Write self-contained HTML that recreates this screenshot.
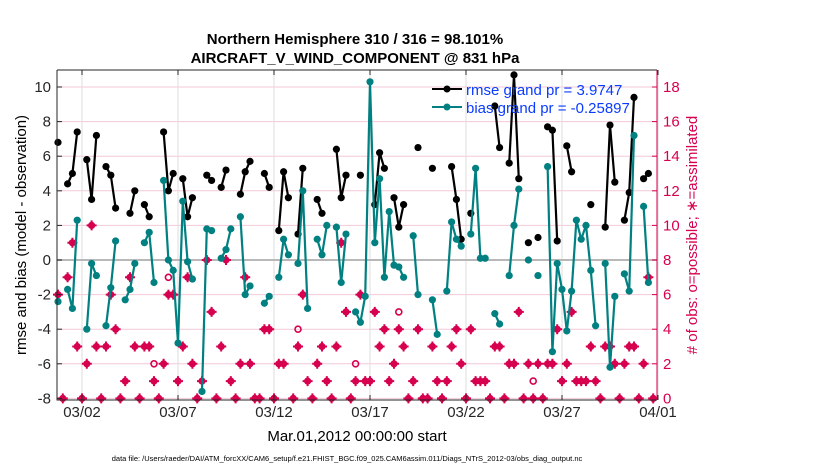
<!DOCTYPE html>
<html><head><meta charset="utf-8"><style>
html,body{margin:0;padding:0;background:#fff;width:830px;height:470px;overflow:hidden}
svg{display:block;font-family:"Liberation Sans",Arial,sans-serif}
</style></head><body>
<svg id="chart" width="830" height="470" viewBox="0 0 830 470" xmlns="http://www.w3.org/2000/svg">
<g id="grid"></g>
<g id="marks"></g>
<g id="axes"></g>
<text x="355" y="44" font-size="15" font-weight="bold" text-anchor="middle">Northern Hemisphere 310 / 316 = 98.101%</text>
<text x="355" y="63" font-size="15" font-weight="bold" text-anchor="middle">AIRCRAFT_V_WIND_COMPONENT @ 831 hPa</text>
<text transform="translate(26,235) rotate(-90)" font-size="15" text-anchor="middle">rmse and bias (model - observation)</text>
<text transform="translate(697,235) rotate(-90)" font-size="15" fill="#d6004f" text-anchor="middle"># of obs: o=possible; ∗=assimilated</text>
<text x="357" y="441" font-size="15" text-anchor="middle">Mar.01,2012 00:00:00 start</text>
<text x="347" y="461" font-size="7.5" text-anchor="middle">data file: /Users/raeder/DAI/ATM_forcXX/CAM6_setup/f.e21.FHIST_BGC.f09_025.CAM6assim.011/Diags_NTrS_2012-03/obs_diag_output.nc</text>
<g id="legend">
<line x1="432" y1="89" x2="462" y2="89" stroke="#000" stroke-width="2"/>
<circle cx="447" cy="89" r="3.5" fill="#000"/>
<text x="466" y="95" font-size="15" fill="#0a3cff">rmse grand pr = 3.9747</text>
<line x1="432" y1="107" x2="462" y2="107" stroke="#008080" stroke-width="2"/>
<circle cx="447" cy="107" r="3.5" fill="#008080"/>
<text x="466" y="113" font-size="15" fill="#0a3cff">bias grand pr = -0.25897</text>
</g>
</svg>
<script>
const rmseVals = {0:6.8,2:4.4,3:5.0,4:7.4,6:5.8,7:3.5,8:7.2,10:5.4,11:4.9,12:3.0,15:2.7,16:4.0,18:3.2,19:2.5,22:7.4,23:4.0,24:5.0,26:4.7,27:2.5,28:3.6,31:4.9,32:4.6,34:4.2,35:5.2,38:3.8,39:5.1,40:5.7,43:5.0,44:4.2,46:1.7,47:5.1,48:3.6,50:1.5,51:5.3,54:3.5,55:2.7,58:6.4,59:3.6,60:4.9,63:4.9,66:3.2,67:6.2,68:5.3,70:3.6,71:1.9,72:3.2,75:6.5,78:5.3,82:5.4,83:3.5,84:1.2,86:2.7,91:8.9,92:6.5,94:5.6,95:10.7,96:4.7,98:1.0,100:1.3,102:7.7,103:7.5,104:1.1,106:6.6,107:5.1,111:3.2,114:1.9,115:7.8,116:4.5,118:2.3,119:3.9,120:9.4,122:4.7,123:5.0};
const biasVals = {0:-2.4,2:-1.7,3:-2.8,4:2.3,6:-4.0,7:-0.2,8:-0.9,10:-3.8,11:-1.6,12:1.1,14:-2.3,15:-1.7,16:-0.2,18:1.0,19:1.6,20:-1.3,22:4.6,23:0.0,24:-0.6,25:-4.8,26:3.4,27:-0.1,28:-1.1,30:-7.6,31:1.8,32:1.7,34:0.1,35:0.6,36:1.8,38:2.5,39:-2.0,40:-1.5,43:-2.5,44:-2.1,46:-1.0,47:1.2,48:0.3,50:-0.2,51:4.0,52:-2.8,54:1.2,55:0.3,56:2.0,58:1.9,59:-1.3,60:1.5,62:-3.0,63:-3.6,64:-2.1,65:10.3,66:1.0,67:4.7,68:-1.0,69:2.8,70:-0.3,71:-0.4,72:-1.0,74:1.4,75:-2.0,78:-2.3,79:-4.3,81:-1.8,82:2.2,83:1.2,84:0.8,86:1.5,87:5.3,88:0.1,89:0.1,91:-3.1,92:-3.7,94:-0.9,95:2.0,96:4.1,98:0.0,100:-0.9,102:5.4,103:-5.3,104:-0.2,105:-1.7,106:-4.1,107:-1.8,108:2.3,109:1.2,110:2.0,111:-0.6,112:-3.8,114:-0.2,115:-6.2,116:-2.1,118:-0.8,119:-1.8,120:7.2,122:3.1,123:-1.3};
const nUsed = {0:6,1:0,2:7,3:9,4:3,5:0,6:2,7:10,8:3,9:0,10:3,11:6,12:4,13:0,14:1,15:7,16:3,17:0,18:3,19:3,20:1,21:0,22:2,23:6,24:6,25:1,26:3,27:7,28:2,29:0,30:1,31:8,32:5,33:0,34:3,35:8,36:1,37:0,38:2,39:7,40:2,41:0,42:0,43:4,44:4,45:0,46:2,47:2,49:0,50:3,51:6,52:1,53:0,54:2,55:3,56:1,57:0,58:3,59:9,60:5,61:0,62:1,63:6,64:1,65:1,66:5,67:3,68:4,69:1,70:2,71:4,72:3,73:0,74:1,75:4,76:0,77:0,78:3,79:1,80:0,81:1,82:3,83:4,84:2,85:0,86:4,87:1,88:1,89:1,90:0,91:3,92:3,93:0,94:2,95:2,96:5,97:0,98:2,99:0,100:2,101:0,102:2,103:2,104:4,105:1,106:2,107:5,108:1,109:1,110:1,111:3,112:1,113:0,114:3,115:3,116:2,117:0,118:2,119:3,120:3,121:0,122:2,123:7,124:0};
const nPossExtra = {20:2,23:7,50:4,62:2,71:5,99:1};
const xTickLabels = ["03/02","03/07","03/12","03/17","03/22","03/27","04/01"];
const xTickDays = [1,6,11,16,21,26,31];
const yTicksLeft = [-8,-6,-4,-2,0,2,4,6,8,10];
const yTicksRight = [0,2,4,6,8,10,12,14,16,18];

const NS="http://www.w3.org/2000/svg";
const L=57,R=657,T=70,B=400;
const xDay=d=>62.8+19.2*d;
const xIdx=i=>xDay(-0.25+0.25*i);
const yL=v=>260-17.3*v;
const yR=c=>yL(c-8);
function mk(tag,attrs,parent){const e=document.createElementNS(NS,tag);for(const k in attrs)e.setAttribute(k,attrs[k]);parent.appendChild(e);return e;}
const grid=document.getElementById('grid'),marks=document.getElementById('marks'),axes=document.getElementById('axes');

yTicksLeft.forEach(v=>{
  if(v!==0){const g=mk('line',{x1:L,x2:R,y1:yL(v),y2:yL(v),stroke:'#f3c9d8','stroke-width':1},grid);
  
  }
});
xTickDays.forEach(d=>{
  const g=mk('line',{x1:xDay(d),x2:xDay(d),y1:T,y2:B,stroke:'#ddd','stroke-width':1},grid);
  
  
});
const z=mk('line',{x1:L,x2:R,y1:yL(0),y2:yL(0),stroke:'#b8b8b8','stroke-width':2},grid);



function star(cx,cy,parent){
  const g=mk('g',{},parent);
  
  
  mk('circle',{cx:cx,cy:cy,r:3.6,fill:'#d6004f'},g);
  mk('path',{d:`M${cx-5} ${cy}H${cx+5}M${cx} ${cy-5}V${cy+5}`,stroke:'#d6004f','stroke-width':2},g);
}
Object.keys(nUsed).forEach(k=>{const i=+k;star(xIdx(i),yR(nUsed[k]),marks);});
Object.keys(nPossExtra).forEach(k=>{
  const c=mk('circle',{cx:xIdx(+k),cy:yR(nPossExtra[k]),r:3,fill:'none',stroke:'#d6004f','stroke-width':1.6},marks);
  
  
});

function series(vals,color,name){
  const idx=Object.keys(vals).map(Number).sort((a,b)=>a-b);
  for(let j=0;j<idx.length-1;j++){
    if(idx[j+1]===idx[j]+1){
      const l=mk('line',{x1:xIdx(idx[j]),y1:yL(vals[idx[j]]),x2:xIdx(idx[j+1]),y2:yL(vals[idx[j+1]]),stroke:color,'stroke-width':2.2},marks);
      
      
    }
  }
  idx.forEach(i=>{
    const c=mk('circle',{cx:xIdx(i),cy:yL(vals[i]),r:3.6,fill:color},marks);
    
    
  });
}
series(rmseVals,'#000','rmse');
series(biasVals,'#008080','bias');

const box=mk('path',{d:`M${L} ${T}H${R}M${L} ${T}V${B}H${R}`,fill:'none',stroke:'#262626','stroke-width':1},axes);


const ra=mk('line',{x1:R,x2:R,y1:T,y2:B,stroke:'#d6004f','stroke-width':1},axes);


yTicksLeft.forEach(v=>{
  mk('line',{x1:L,x2:L+5,y1:yL(v),y2:yL(v),stroke:'#262626'},axes);
  const t=mk('text',{x:L-6,y:yL(v)+5,'font-size':15,'text-anchor':'end',fill:'#262626'},axes);
  t.textContent=v;
  
  
});
yTicksRight.forEach(c=>{
  mk('line',{x1:R-5,x2:R,y1:yR(c),y2:yR(c),stroke:'#d6004f'},axes);
  const t=mk('text',{x:R+6,y:yR(c)+5,'font-size':15,fill:'#d6004f'},axes);
  t.textContent=c;
  
  
});
xTickDays.forEach((d,i)=>{
  mk('line',{x1:xDay(d),x2:xDay(d),y1:B-5,y2:B,stroke:'#262626'},axes);
  mk('line',{x1:xDay(d),x2:xDay(d),y1:T,y2:T+5,stroke:'#262626'},axes);
  const t=mk('text',{x:xDay(d),y:B+17,'font-size':15,'text-anchor':'middle',fill:'#262626'},axes);
  t.textContent=xTickLabels[i];
  
  
});
</script>
</body></html>
